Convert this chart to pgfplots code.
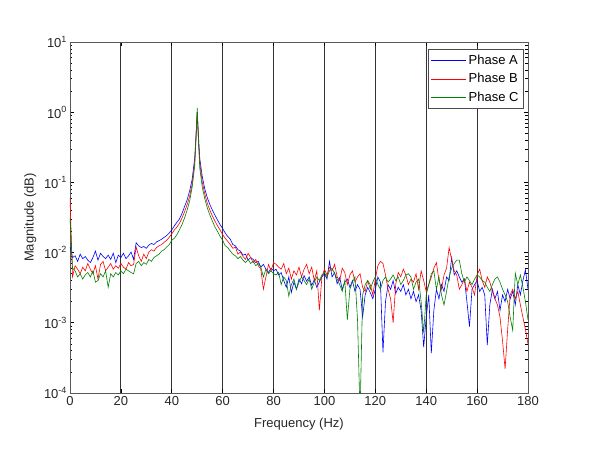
\documentclass[border=0pt]{standalone}
\usepackage{pgfplots}
\pgfplotsset{compat=1.18}
\usepackage{fontspec}
\setmainfont{Liberation Sans}
\newcommand\ep[1]{10\raisebox{0.8ex}{\fontsize{9}{9}\selectfont #1}}
\begin{document}
\begin{tikzpicture}[x=1pt,y=1pt]
\path[use as bounding box] (-70,-67) rectangle (520,393);
\begin{axis}[
 at={(0,0)}, anchor=south west,
 scale only axis, width=458pt, height=351pt,
 xmin=0, xmax=180, ymin=1e-4, ymax=10, ymode=log,
 xtick={0,20,...,180}, xticklabels={0,20,40,60,80,100,120,140,160,180},
 ytick={1e-4,1e-3,1e-2,1e-1,1,10},
 yticklabels={\ep{-4},\ep{-3},\ep{-2},\ep{-1},\ep{0},\ep{1}},
 tick align=inside,
 xmajorgrids, major grid style={black!80, line width=0.8pt},
 axis line style={black!65, line width=0.8pt},
 tick style={black, line width=0.6pt},
 major tick length=4pt, minor tick length=2.5pt,
 tick label style={font=\fontsize{13}{15}\selectfont, text=black!85},
 label style={font=\fontsize{13}{15}\selectfont, text=black!85},
 xlabel={Frequency (Hz)}, ylabel={Magnitude (dB)},
 xlabel style={at={(axis description cs:0.5,0)}, anchor=center, yshift=-31pt},
 ylabel style={at={(axis description cs:-0.087,0.5)}, anchor=center},
 legend style={at={(1,1)}, anchor=north east, xshift=-4pt, yshift=-7pt,
   font=\fontsize{13}{15}\selectfont, draw=black!70, line width=0.8pt, fill=white,
   row sep=3.2pt, inner xsep=3pt, inner ysep=4pt, cells={anchor=west}},
 legend image code/.code={\draw[#1, line width=0.8pt] (0pt,0pt) -- (35pt,0pt);},
 legend cell align=left,
]
\addplot[blue, line width=0.6pt] coordinates {
(0,0.012)(1,0.0085)(2,0.009)(3,0.0075)(4,0.0095)(5,0.0082)(6,0.0088)(7,0.0078)(8,0.0072)(9,0.0085)
(10,0.0105)(11,0.0078)(12,0.0098)(13,0.0088)(14,0.0082)(15,0.0092)(16,0.0080)(17,0.0098)(18,0.0072)(19,0.0092)
(20,0.0085)(21,0.0098)(22,0.0082)(23,0.0090)(24,0.0102)(25,0.0080)(26,0.0138)(27,0.0125)(28,0.0118)(29,0.0122)
(30,0.0115)(31,0.0128)(32,0.0135)(33,0.0130)(34,0.0142)(35,0.0148)(36,0.0155)(37,0.0165)(38,0.0175)(39,0.019)
(40,0.021)(41,0.024)(42,0.027)(43,0.030)(44,0.036)(45,0.045)(46,0.056)(47,0.075)(48,0.11)(49,0.22)
(49.5,0.45)(50,1.0)(50.5,0.45)(51,0.22)(52,0.12)(53,0.08)(54,0.06)(55,0.048)(56,0.040)(57,0.034)(58,0.029)(59,0.025)
(60,0.022)(61,0.019)(62,0.017)(63,0.0155)(64,0.013)(65,0.0125)(66,0.011)(67,0.0105)(68,0.0092)(69,0.0095)
(70,0.0078)(71,0.0085)(72,0.0080)(73,0.0072)(74,0.0075)(75,0.0062)(76,0.0068)(77,0.0058)(78,0.0052)(79,0.0060)
(80,0.0055)(81,0.0058)(82,0.0048)(83,0.0052)(84,0.0040)(85,0.0032)(86,0.0045)(87,0.0027)(88,0.0038)(89,0.0030)
(90,0.0042)(91,0.0036)(92,0.0047)(93,0.0039)(94,0.0045)(95,0.0034)(96,0.0041)(97,0.0032)(98,0.0038)(99,0.0045)
(100,0.0050)(101,0.0042)(102,0.0075)(103,0.0045)(104,0.0052)(105,0.0036)(106,0.0044)(107,0.0030)(108,0.0038)(109,0.0042)
(110,0.0032)(111,0.0040)(112,0.0028)(113,0.0035)(114,0.0030)(115,0.0012)(116,0.0025)(117,0.0032)(118,0.0027)(119,0.0022)
(120,0.0030)(121,0.0045)(122,0.0038)(123,0.00038)(124,0.0020)(125,0.0035)(126,0.0030)(127,0.0040)(128,0.0026)(129,0.0032)
(130,0.0028)(131,0.0035)(132,0.0025)(133,0.0030)(134,0.0022)(135,0.0028)(136,0.0020)(137,0.0025)(138,0.0015)(139,0.00045)
(140,0.0012)(141,0.0025)(142,0.00037)(143,0.0015)(144,0.0030)(145,0.0022)(146,0.0035)(147,0.0028)(148,0.0045)(149,0.0040)
(150,0.0085)(151,0.0048)(152,0.0055)(153,0.0045)(154,0.0038)(155,0.0042)(156,0.0020)(157,0.00088)(158,0.0030)(159,0.0035)
(160,0.0040)(161,0.0028)(162,0.0032)(163,0.0025)(164,0.00048)(165,0.0018)(166,0.0030)(167,0.0022)(168,0.0028)(169,0.0015)
(170,0.0025)(171,0.0020)(172,0.0030)(173,0.0022)(174,0.0028)(175,0.0018)(176,0.0035)(177,0.0025)(178,0.0040)(179,0.0057)
(180,0.0030)
};
\addlegendentry{Phase A}
\addplot[red, line width=0.6pt] coordinates {
(0,0.06)(1,0.0045)(2,0.0065)(3,0.0058)(4,0.0050)(5,0.0062)(6,0.0055)(7,0.0070)(8,0.0058)(9,0.0050)
(10,0.0065)(11,0.0042)(12,0.0068)(13,0.0075)(14,0.0055)(15,0.0062)(16,0.0070)(17,0.0058)(18,0.0065)(19,0.0060)
(20,0.0070)(21,0.0062)(22,0.0058)(23,0.0072)(24,0.0065)(25,0.0068)(26,0.0120)(27,0.0090)(28,0.0075)(29,0.0095)
(30,0.0082)(31,0.0102)(32,0.0110)(33,0.0105)(34,0.0118)(35,0.0125)(36,0.0130)(37,0.0140)(38,0.0150)(39,0.0165)
(40,0.0185)(41,0.021)(42,0.023)(43,0.026)(44,0.031)(45,0.038)(46,0.048)(47,0.063)(48,0.095)(49,0.19)
(49.5,0.42)(50,1.0)(50.5,0.40)(51,0.19)(52,0.10)(53,0.068)(54,0.050)(55,0.040)(56,0.033)(57,0.028)(58,0.024)(59,0.021)
(60,0.018)(61,0.016)(62,0.0145)(63,0.0130)(64,0.0115)(65,0.0120)(66,0.0095)(67,0.0102)(68,0.0088)(69,0.0080)
(70,0.0098)(71,0.0085)(72,0.0072)(73,0.0080)(74,0.0065)(75,0.0058)(76,0.0030)(77,0.0045)(78,0.0068)(79,0.0055)
(80,0.0072)(81,0.0068)(82,0.0062)(83,0.0058)(84,0.0070)(85,0.0050)(86,0.0060)(87,0.0042)(88,0.0055)(89,0.0048)
(90,0.0062)(91,0.0045)(92,0.0058)(93,0.0068)(94,0.0050)(95,0.0062)(96,0.0040)(97,0.0055)(98,0.0015)(99,0.0045)
(100,0.0058)(101,0.0048)(102,0.0062)(103,0.0055)(104,0.0068)(105,0.0045)(106,0.0040)(107,0.0060)(108,0.0052)(109,0.0035)
(110,0.0048)(111,0.0055)(112,0.0038)(113,0.0045)(114,0.0050)(115,0.0032)(116,0.0028)(117,0.0040)(118,0.0035)(119,0.0025)
(120,0.0042)(121,0.0065)(122,0.0075)(123,0.0070)(124,0.0048)(125,0.0030)(126,0.0022)(127,0.0010)(128,0.0035)(129,0.0052)
(130,0.0045)(131,0.0058)(132,0.0048)(133,0.0035)(134,0.0042)(135,0.0038)(136,0.0050)(137,0.0030)(138,0.0055)(139,0.0040)
(140,0.0028)(141,0.0035)(142,0.0045)(143,0.0060)(144,0.0072)(145,0.0040)(146,0.0030)(147,0.0048)(148,0.0060)(149,0.0118)
(150,0.0078)(151,0.0055)(152,0.0048)(153,0.0030)(154,0.0035)(155,0.0042)(156,0.0028)(157,0.0038)(158,0.0032)(159,0.0025)
(160,0.0048)(161,0.0058)(162,0.0040)(163,0.0032)(164,0.0045)(165,0.0038)(166,0.0028)(167,0.0022)(168,0.0018)(169,0.0012)
(170,0.00055)(171,0.00022)(172,0.0008)(173,0.0025)(174,0.0030)(175,0.0022)(176,0.0028)(177,0.0018)(178,0.0012)(179,0.0008)
(180,0.0005)
};
\addlegendentry{Phase B}
\addplot[green!50!black, line width=0.6pt] coordinates {
(0,0.031)(1,0.0060)(2,0.0055)(3,0.0045)(4,0.0050)(5,0.0042)(6,0.0048)(7,0.0052)(8,0.0045)(9,0.0055)
(10,0.0038)(11,0.0040)(12,0.0050)(13,0.0045)(14,0.0055)(15,0.0032)(16,0.0050)(17,0.0045)(18,0.0052)(19,0.0048)
(20,0.0055)(21,0.0050)(22,0.0058)(23,0.0055)(24,0.0052)(25,0.0050)(26,0.0070)(27,0.0075)(28,0.0065)(29,0.0072)
(30,0.0068)(31,0.0080)(32,0.0075)(33,0.0085)(34,0.0090)(35,0.0095)(36,0.0105)(37,0.0110)(38,0.0120)(39,0.0130)
(40,0.0150)(41,0.0160)(42,0.018)(43,0.021)(44,0.025)(45,0.031)(46,0.040)(47,0.054)(48,0.085)(49,0.17)
(49.5,0.40)(50,1.15)(50.5,0.38)(51,0.16)(52,0.085)(53,0.058)(54,0.043)(55,0.034)(56,0.028)(57,0.023)(58,0.020)(59,0.017)
(60,0.015)(61,0.0125)(62,0.0118)(63,0.0105)(64,0.0095)(65,0.0090)(66,0.0082)(67,0.0088)(68,0.0078)(69,0.0072)
(70,0.0080)(71,0.0070)(72,0.0075)(73,0.0065)(74,0.0070)(75,0.0062)(76,0.0045)(77,0.0058)(78,0.0050)(79,0.0055)
(80,0.0050)(81,0.0048)(82,0.0052)(83,0.0035)(84,0.0045)(85,0.0040)(86,0.0024)(87,0.0035)(88,0.0042)(89,0.0030)
(90,0.0038)(91,0.0045)(92,0.0040)(93,0.0035)(94,0.0042)(95,0.0030)(96,0.0038)(97,0.0045)(98,0.0040)(99,0.0048)
(100,0.0052)(101,0.0045)(102,0.0055)(103,0.0060)(104,0.0050)(105,0.0042)(106,0.0035)(107,0.0028)(108,0.0040)(109,0.0011)
(110,0.0030)(111,0.0038)(112,0.0045)(113,0.0011)(114,0.00005)(115,0.0025)(116,0.0035)(117,0.0040)(118,0.0030)(119,0.0038)
(120,0.0045)(121,0.0035)(122,0.0030)(123,0.0040)(124,0.0045)(125,0.0038)(126,0.0042)(127,0.0048)(128,0.0040)(129,0.0045)
(130,0.0035)(131,0.0040)(132,0.0048)(133,0.0050)(134,0.0045)(135,0.0030)(136,0.0038)(137,0.0042)(138,0.0020)(139,0.00072)
(140,0.0025)(141,0.0035)(142,0.0050)(143,0.0055)(144,0.0030)(145,0.0045)(146,0.0025)(147,0.0018)(148,0.0028)(149,0.0045)
(150,0.0060)(151,0.0070)(152,0.0078)(153,0.0078)(154,0.0050)(155,0.0038)(156,0.0045)(157,0.0040)(158,0.0035)(159,0.0042)
(160,0.0048)(161,0.0045)(162,0.0040)(163,0.0038)(164,0.0032)(165,0.0028)(166,0.0035)(167,0.0042)(168,0.0045)(169,0.0038)
(170,0.0030)(171,0.0025)(172,0.0020)(173,0.0012)(174,0.00078)(175,0.0051)(176,0.0035)(177,0.0048)(178,0.0032)(179,0.0020)
(180,0.0011)
};
\addlegendentry{Phase C}
\end{axis}
\end{tikzpicture}
\end{document}
